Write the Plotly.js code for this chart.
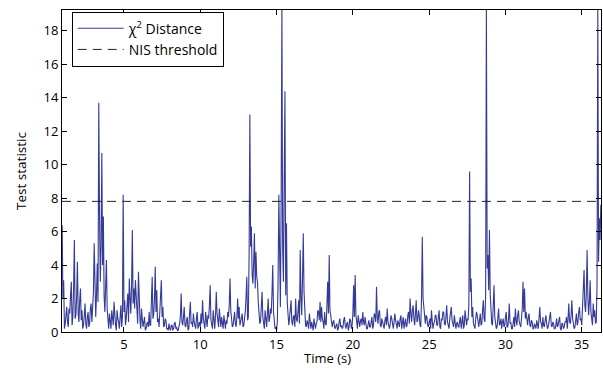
<!DOCTYPE html>
<html>
<head>
<meta charset="utf-8">
<script src="https://cdn.plot.ly/plotly-3.0.1.min.js"></script>
<style>html,body{margin:0;padding:0;background:#fff;}#chart{width:603px;height:368px;}</style>
</head>
<body>
<div id="chart"></div>
<script>
// Time base (s): first sample and sampling step
const tStart = 0.95;
const tStep = 0.05;

// Chi-square distance values, one row per second of data
const chi2Distance = [
  6.4, 2.0, 3.1, 0.2, 0.5, 0.9, 1.5, 0.6, 0.3, 1.4, 1.1, 2.2, 3.0, 0.4, 0.9, 2.6, 5.5, 0.8, 1.0, 2.1,
  4.2, 1.1, 0.6, 1.9, 2.6, 0.7, 1.3, 0.2, 0.4, 1.0, 1.7, 0.5, 0.2, 0.9, 1.2, 0.3, 0.5, 1.4, 1.7, 0.6,
  1.3, 2.4, 5.3, 1.6, 0.9, 2.2, 4.1, 1.8, 13.7, 7.0, 3.0, 5.1, 10.7, 4.0, 6.9, 2.1, 1.2, 2.7, 4.3, 1.4,
  0.5, 0.2, 1.1, 0.6, 0.2, 1.3, 0.9, 0.4, 1.8, 0.7, 0.4, 0.1, 1.3, 0.8, 0.6, 0.2, 1.0, 1.6, 0.3, 0.9,
  8.2, 1.2, 1.9, 0.4, 0.8, 1.5, 2.3, 0.6, 3.2, 2.0, 1.1, 2.8, 6.1, 1.7, 2.6, 1.4, 3.1, 2.2, 1.0, 0.5,
  3.6, 1.5, 0.7, 0.2, 1.4, 0.8, 0.3, 0.6, 0.9, 0.1, 0.2, 0.5, 0.6, 0.3, 1.2, 0.4, 0.4, 1.9, 3.3, 0.8,
  1.1, 2.0, 3.9, 1.2, 2.5, 0.6, 0.8, 0.3, 1.6, 2.2, 3.1, 0.9, 1.5, 0.3, 0.4, 0.8, 0.7, 0.2, 0.2, 0.1,
  0.5, 0.2, 0.1, 0.4, 0.4, 0.1, 0.2, 0.5, 0.6, 0.2, 0.3, 0.1, 0.1, 0.3, 0.5, 1.0, 2.3, 0.6, 0.4, 0.9,
  1.5, 0.4, 0.3, 0.7, 0.9, 0.1, 0.2, 1.1, 1.8, 0.5, 0.6, 0.3, 1.1, 0.6, 0.3, 0.2, 0.8, 1.2, 0.2, 0.5,
  0.6, 0.3, 1.1, 0.5, 1.9, 0.8, 0.4, 0.2, 1.2, 0.6, 0.3, 1.0, 0.8, 1.6, 2.8, 0.7, 0.5, 0.2, 1.3, 0.6,
  0.2, 1.0, 2.4, 1.1, 0.7, 0.3, 1.4, 0.5, 0.3, 0.9, 0.6, 0.2, 1.0, 0.4, 0.2, 0.7, 0.5, 1.2, 0.9, 1.6,
  3.2, 1.3, 0.8, 0.3, 0.4, 1.0, 1.2, 0.5, 0.3, 0.9, 2.0, 0.8, 1.5, 0.4, 0.6, 1.0, 1.1, 0.3, 0.4, 0.8,
  1.2, 2.1, 3.3, 0.7, 0.9, 4.5, 13.0, 5.1, 6.3, 3.4, 2.9, 4.2, 5.9, 2.6, 4.8, 3.3, 3.0, 1.8, 1.1, 0.5,
  0.6, 1.5, 2.4, 0.9, 0.5, 0.2, 1.3, 0.7, 0.3, 1.1, 2.0, 0.6, 0.8, 1.4, 1.1, 2.3, 4.0, 1.2, 0.7, 0.2,
  0.3, 0.1, 0.6, 3.1, 8.2, 2.4, 1.5, 7.8, 19.5, 5.0, 3.0, 8.9, 14.4, 2.2, 6.5, 1.8, 1.2, 0.4, 0.8, 1.5,
  1.9, 0.6, 0.4, 0.9, 1.0, 0.3, 2.0, 0.8, 0.6, 1.2, 1.9, 0.5, 4.9, 2.0, 1.0, 3.2, 5.9, 2.4, 1.2, 0.4,
  0.3, 0.7, 0.5, 0.2, 1.1, 0.4, 0.2, 0.6, 0.4, 0.1, 0.8, 0.3, 0.2, 0.5, 0.6, 1.3, 1.2, 0.7, 1.8, 0.6,
  1.5, 0.8, 0.6, 0.2, 1.2, 0.5, 0.4, 1.6, 3.0, 1.1, 4.6, 1.3, 0.9, 0.4, 0.3, 0.6, 0.7, 0.3, 0.2, 0.4,
  0.5, 0.1, 0.2, 0.6, 0.8, 0.3, 0.4, 0.2, 0.3, 0.7, 0.9, 0.4, 0.2, 0.5, 0.6, 0.1, 0.3, 0.8, 0.7, 0.2,
  0.4, 1.1, 2.8, 0.9, 3.4, 1.0, 0.6, 0.2, 1.0, 0.5, 0.3, 0.7, 0.8, 0.4, 1.2, 0.6, 0.4, 0.9, 0.6, 0.2,
  0.2, 0.5, 0.7, 0.3, 0.3, 0.6, 0.9, 0.2, 0.4, 1.1, 1.0, 0.6, 2.7, 0.9, 0.5, 1.2, 1.3, 0.4, 0.3, 0.8,
  0.6, 0.3, 0.2, 0.7, 0.9, 0.4, 1.4, 0.6, 0.3, 0.2, 0.5, 1.0, 0.8, 0.3, 0.2, 0.6, 1.1, 0.7, 0.4, 0.2,
  0.7, 0.4, 0.3, 0.8, 1.0, 0.2, 0.5, 0.9, 0.2, 0.6, 0.8, 0.3, 0.4, 1.0, 1.2, 0.5, 2.0, 1.1, 0.6, 1.3,
  1.6, 0.8, 0.4, 1.1, 1.9, 0.6, 0.7, 1.3, 1.0, 0.4, 0.3, 2.1, 5.7, 2.0, 1.4, 0.6, 0.5, 1.0, 0.9, 0.4,
  0.3, 0.6, 0.8, 0.2, 1.3, 0.7, 0.2, 0.5, 0.6, 1.0, 1.0, 0.4, 0.4, 0.9, 1.3, 0.3, 0.2, 0.8, 0.7, 1.2,
  1.2, 0.5, 0.4, 0.9, 1.6, 0.6, 0.3, 0.2, 0.8, 1.1, 1.5, 0.7, 0.4, 0.3, 1.0, 0.6, 0.2, 0.5, 0.6, 0.3,
  0.3, 0.7, 0.9, 0.2, 0.5, 1.0, 0.2, 0.4, 1.3, 0.6, 0.4, 0.8, 0.7, 1.6, 9.6, 2.4, 3.2, 0.9, 1.5, 0.5,
  0.4, 0.2, 0.8, 1.2, 1.0, 0.5, 0.3, 0.7, 1.1, 0.4, 0.5, 1.3, 1.9, 0.8, 0.6, 2.2, 19.5, 3.8, 4.6, 2.5,
  6.1, 2.3, 1.0, 0.5, 0.4, 1.6, 2.8, 0.9, 0.6, 0.2, 0.3, 0.9, 1.4, 0.4, 0.5, 0.8, 0.2, 0.6, 0.8, 0.3,
  0.4, 0.9, 1.2, 0.3, 0.3, 0.8, 1.7, 0.5, 0.6, 0.2, 0.2, 0.5, 0.9, 0.3, 1.4, 0.7, 0.4, 1.0, 1.3, 0.6,
  0.5, 0.3, 0.8, 1.4, 3.0, 1.2, 2.6, 0.8, 1.2, 0.5, 0.4, 0.9, 1.1, 0.4, 0.3, 0.7, 0.6, 0.2, 0.2, 0.5,
  0.4, 0.2, 0.7, 0.3, 0.2, 0.8, 1.5, 0.6, 0.5, 0.2, 0.9, 0.4, 0.3, 0.7, 1.0, 0.5, 0.2, 0.3, 0.6, 0.9,
  1.2, 0.4, 0.3, 0.6, 0.5, 0.2, 0.2, 0.4, 0.8, 0.3, 0.4, 0.7, 0.9, 0.2, 0.1, 0.5, 0.5, 0.2, 0.3, 0.6,
  0.6, 0.9, 0.2, 0.8, 1.7, 0.6, 0.5, 1.0, 1.9, 0.8, 0.4, 0.2, 0.3, 0.6, 1.1, 0.4, 0.6, 1.2, 1.5, 0.7,
  0.8, 0.4, 1.4, 2.0, 3.7, 1.6, 1.2, 2.3, 4.9, 2.1, 1.0, 1.8, 3.1, 1.2, 0.7, 0.4, 1.7, 0.9, 1.3, 0.5,
  0.6, 2.8, 19.5, 4.2, 6.8, 5.5, 7.6
];

// NIS threshold (chi-square, 95%)
const nisThreshold = 7.81;

// Axis ticks
const xTickVals = [5, 10, 15, 20, 25, 30, 35];
const yTickVals = [0, 2, 4, 6, 8, 10, 12, 14, 16, 18];
const xRange = [0.94, 36.26];
const yRange = [0, 19.25];

const timeValues = chi2Distance.map((_, i) => +(tStart + i * tStep).toFixed(3));

const font = "'Open Sans', 'DejaVu Sans', sans-serif";

const traces = [
  {
    x: timeValues,
    y: chi2Distance,
    type: 'scatter',
    mode: 'lines',
    name: 'χ<sup>2</sup> Distance',
    line: {color: '#343a97', width: 1.1},
    cliponaxis: true
  },
  {
    x: xRange,
    y: [nisThreshold, nisThreshold],
    type: 'scatter',
    mode: 'lines',
    name: 'NIS threshold',
    line: {color: '#222222', width: 1, dash: '9px,6px'}
  }
];

const axisCommon = {
  showgrid: false,
  zeroline: false,
  showline: true,
  linecolor: '#000',
  linewidth: 1,
  mirror: 'allticks',
  ticks: 'inside',
  ticklen: 5,
  tickwidth: 1,
  tickcolor: '#000',
  tickfont: {family: font, size: 13, color: '#000'}
};

const layout = {
  width: 603,
  height: 368,
  margin: {l: 62, r: 2, t: 10, b: 36},
  paper_bgcolor: '#fff',
  plot_bgcolor: '#fff',
  showlegend: true,
  legend: {
    x: 0.018, y: 0.995, xanchor: 'left', yanchor: 'top',
    bgcolor: '#fff', bordercolor: '#000', borderwidth: 1,
    font: {family: font, size: 14, color: '#000'},
    itemwidth: 46,
    tracegroupgap: 0
  },
  xaxis: Object.assign({}, axisCommon, {
    range: xRange,
    tickvals: xTickVals,
    ticktext: xTickVals.map(String),
    ticklabelstandoff: 0
  }),
  yaxis: Object.assign({}, axisCommon, {
    range: yRange,
    tickvals: yTickVals,
    ticktext: yTickVals.map(String),
    title: {text: 'Test statistic', font: {family: font, size: 13.5, color: '#000'}, standoff: 13}
  }),
  annotations: [{
    text: 'Time (s)',
    xref: 'paper', yref: 'paper',
    x: 0.4926, y: 0, xanchor: 'center', yanchor: 'top',
    yshift: -16,
    borderpad: 0,
    showarrow: false,
    font: {family: font, size: 13, color: '#000'}
  }]
};

Plotly.newPlot('chart', traces, layout, {displayModeBar: false, staticPlot: true});
</script>
</body>
</html>
